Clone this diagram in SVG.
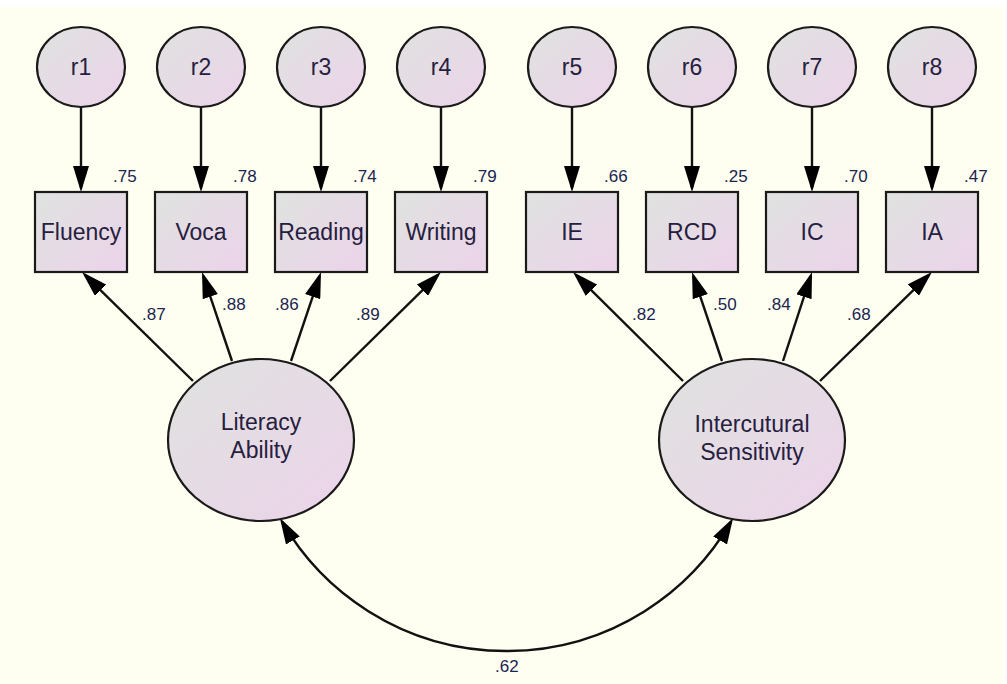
<svg xmlns="http://www.w3.org/2000/svg" width="1007" height="684" viewBox="0 0 1007 684">
<defs>
<linearGradient id="g" x1="0" y1="0" x2="1" y2="1">
<stop offset="0" stop-color="#dfe3df"/>
<stop offset="1" stop-color="#ecd3ea"/>
</linearGradient>
<marker id="ah" viewBox="0 0 26 16" refX="22" refY="8" markerWidth="26" markerHeight="16" markerUnits="userSpaceOnUse" orient="auto-start-reverse">
<path d="M0,0 L26,8 L0,16 z" fill="#000"/>
</marker>
</defs>
<style>
.n{fill:url(#g);stroke:#1a1a1a;stroke-width:2.2}
.t{font-family:"Liberation Sans",Arial,sans-serif;font-size:23px;fill:#262040;text-anchor:middle}
.v{font-family:"Liberation Sans",Arial,sans-serif;font-size:17px;fill:#1c2450}
.c{fill:none;stroke:#111;stroke-width:2.4;marker-end:url(#ah)}
</style>
<rect x="0" y="0" width="1007" height="684" fill="#ffffff"/>
<rect x="0" y="7" width="1004" height="677" fill="#fefff0"/>

<g id="connectors">
<path class="c" d="M81,107 L81,188"/>
<path class="c" d="M201,107 L201,188"/>
<path class="c" d="M321,107 L321,188"/>
<path class="c" d="M441,107 L441,188"/>
<path class="c" d="M572,107 L572,188"/>
<path class="c" d="M692,107 L692,188"/>
<path class="c" d="M812,107 L812,188"/>
<path class="c" d="M932,107 L932,188"/>
<path class="c" d="M193,381 L84.9,274.8"/>
<path class="c" d="M232,361 L203.3,275.8"/>
<path class="c" d="M291,361 L319.7,275.8"/>
<path class="c" d="M330,381 L438.1,274.8"/>
<path class="c" d="M683,381 L575.8,274.8"/>
<path class="c" d="M722,361 L693.3,275.8"/>
<path class="c" d="M783,361 L810.8,275.8"/>
<path class="c" d="M820,381 L929.1,274.8"/>
<path class="c" style="marker-start:url(#ah)" d="M281.9,521.4 A259.4,259.4 0 0 0 731.1,521.4"/>
<text class="v" x="113" y="182">.75</text>
<text class="v" x="233" y="182">.78</text>
<text class="v" x="353" y="182">.74</text>
<text class="v" x="473" y="182">.79</text>
<text class="v" x="604" y="182">.66</text>
<text class="v" x="724" y="182">.25</text>
<text class="v" x="844" y="182">.70</text>
<text class="v" x="964" y="182">.47</text>
<text class="v" x="142" y="320">.87</text>
<text class="v" x="222" y="310">.88</text>
<text class="v" x="275" y="310">.86</text>
<text class="v" x="356" y="320">.89</text>
<text class="v" x="632" y="320">.82</text>
<text class="v" x="713" y="310">.50</text>
<text class="v" x="767" y="310">.84</text>
<text class="v" x="847" y="320">.68</text>
<text class="v" x="495" y="672">.62</text>
</g>

<g id="r1"><ellipse class="n" cx="81" cy="67" rx="44" ry="40"/><text class="t" x="81" y="75">r1</text></g>
<g id="r2"><ellipse class="n" cx="201" cy="67" rx="44" ry="40"/><text class="t" x="201" y="75">r2</text></g>
<g id="r3"><ellipse class="n" cx="321" cy="67" rx="44" ry="40"/><text class="t" x="321" y="75">r3</text></g>
<g id="r4"><ellipse class="n" cx="441" cy="67" rx="44" ry="40"/><text class="t" x="441" y="75">r4</text></g>
<g id="r5"><ellipse class="n" cx="572" cy="67" rx="44" ry="40"/><text class="t" x="572" y="75">r5</text></g>
<g id="r6"><ellipse class="n" cx="692" cy="67" rx="44" ry="40"/><text class="t" x="692" y="75">r6</text></g>
<g id="r7"><ellipse class="n" cx="812" cy="67" rx="44" ry="40"/><text class="t" x="812" y="75">r7</text></g>
<g id="r8"><ellipse class="n" cx="932" cy="67" rx="44" ry="40"/><text class="t" x="932" y="75">r8</text></g>

<g id="Fluency"><rect class="n" x="35" y="192" width="92" height="80"/><text class="t" x="81" y="240">Fluency</text></g>
<g id="Voca"><rect class="n" x="155" y="192" width="92" height="80"/><text class="t" x="201" y="240">Voca</text></g>
<g id="Reading"><rect class="n" x="275" y="192" width="92" height="80"/><text class="t" x="321" y="240">Reading</text></g>
<g id="Writing"><rect class="n" x="395" y="192" width="92" height="80"/><text class="t" x="441" y="240">Writing</text></g>
<g id="IE"><rect class="n" x="526" y="192" width="92" height="80"/><text class="t" x="572" y="240">IE</text></g>
<g id="RCD"><rect class="n" x="646" y="192" width="92" height="80"/><text class="t" x="692" y="240">RCD</text></g>
<g id="IC"><rect class="n" x="766" y="192" width="92" height="80"/><text class="t" x="812" y="240">IC</text></g>
<g id="IA"><rect class="n" x="886" y="192" width="92" height="80"/><text class="t" x="932" y="240">IA</text></g>

<g id="LiteracyAbility"><ellipse class="n" cx="261" cy="440" rx="93" ry="81"/><text class="t" x="261" y="430">Literacy</text><text class="t" x="261" y="458">Ability</text></g>
<g id="InterculturalSensitivity"><ellipse class="n" cx="752" cy="440" rx="93" ry="81"/><text class="t" x="752" y="432">Intercutural</text><text class="t" x="752" y="460">Sensitivity</text></g>
</svg>
